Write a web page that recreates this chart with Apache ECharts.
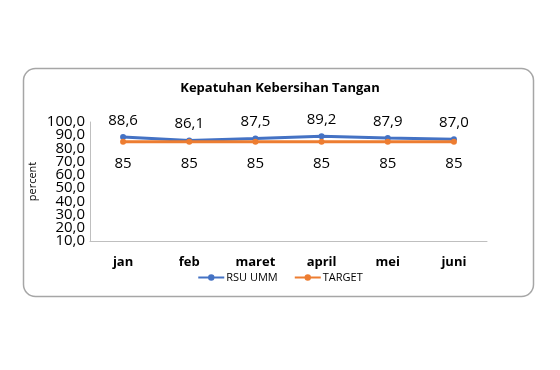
<!DOCTYPE html>
<html>
<head>
<meta charset="utf-8">
<script src="https://cdn.jsdelivr.net/npm/echarts@6/dist/echarts.min.js"></script>
<style>
  html, body { margin: 0; padding: 0; background: #fff; }
  #chart { width: 560px; height: 370px; }
</style>
</head>
<body>
<div id="chart"></div>
<script>
const months = ['jan', 'feb', 'maret', 'april', 'mei', 'juni'];
const rsuUmm = [88.6, 86.1, 87.5, 89.2, 87.9, 87.0];
const target = [85, 85, 85, 85, 85, 85];

const blue = '#4472C4';
const orange = '#ED7D31';
const fontFam = '"Open Sans", "Liberation Sans", sans-serif';

const chart = echarts.init(document.getElementById('chart'));

// two overlapping value axes share the ticks, so tightly stacked labels are not auto-hidden
const yLabel = (keepOdd) => ({
    margin: 5,
    color: '#000',
    fontSize: 15,
    showMinLabel: true,
    showMaxLabel: true,
    formatter: v => ((v / 10) % 2 === 1) === keepOdd ? v.toFixed(1).replace('.', ',') : ''
});

chart.setOption({
    backgroundColor: '#fff',
    animation: false,
    textStyle: { fontFamily: fontFam },
    graphic: [{
        type: 'rect',
        shape: { x: 23.5, y: 68.5, width: 510, height: 228, r: 12 },
        style: { fill: 'none', stroke: '#a6a6a6', lineWidth: 1.5 },
        z: -1
    }],
    title: {
        text: 'Kepatuhan Kebersihan Tangan',
        left: 'center',
        top: 77,
        textStyle: { fontSize: 13, fontWeight: 'bold', color: '#000', fontFamily: fontFam }
    },
    legend: {
        bottom: 82,
        left: 'center',
        itemWidth: 26,
        itemHeight: 8,
        itemGap: 16,
        textStyle: { fontSize: 11, color: '#000', padding: [0, 0, 0, -3] },
        data: ['RSU UMM', 'TARGET']
    },
    grid: { left: 90, right: 73, top: 122, bottom: 129 },
    xAxis: {
        type: 'category',
        data: months,
        boundaryGap: true,
        axisLine: { lineStyle: { color: '#bfbfbf', width: 1 } },
        axisTick: { show: false },
        axisLabel: { color: '#000', fontSize: 13, fontWeight: 'bold', margin: 15 }
    },
    yAxis: [
        {
            type: 'value',
            position: 'left',
            min: 10,
            max: 100,
            interval: 10,
            name: 'percent',
            nameLocation: 'middle',
            nameGap: 52,
            nameTextStyle: { fontSize: 11, color: '#000' },
            axisLine: { show: true, lineStyle: { color: '#bfbfbf', width: 1 } },
            axisTick: { show: false },
            splitLine: { show: false },
            axisLabel: yLabel(true)
        },
        {
            type: 'value',
            position: 'left',
            offset: 0,
            min: 10,
            max: 100,
            interval: 10,
            axisLine: { show: false },
            axisTick: { show: false },
            splitLine: { show: false },
            axisLabel: yLabel(false)
        }
    ],
    series: [
        {
            name: 'RSU UMM',
            type: 'line',
            data: rsuUmm,
            symbol: 'circle',
            symbolSize: 6,
            lineStyle: { color: blue, width: 3 },
            itemStyle: { color: blue },
            label: {
                show: true,
                position: 'top',
                distance: 6,
                color: '#000',
                fontSize: 15,
                formatter: p => p.value.toFixed(1).replace('.', ',')
            },
            z: 3
        },
        {
            name: 'TARGET',
            type: 'line',
            data: target,
            symbol: 'circle',
            symbolSize: 6,
            lineStyle: { color: orange, width: 3 },
            itemStyle: { color: orange },
            label: {
                show: true,
                position: 'bottom',
                distance: 11,
                color: '#000',
                fontSize: 15
            },
            z: 4
        }
    ]
});
</script>
</body>
</html>
